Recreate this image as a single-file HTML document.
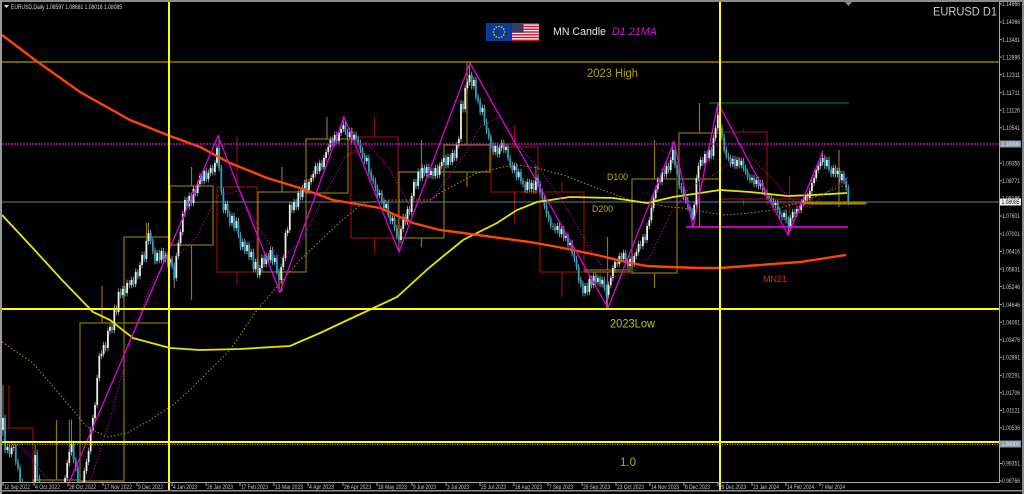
<!DOCTYPE html>
<html><head><meta charset="utf-8">
<style>
html,body{margin:0;padding:0;background:#000;width:1024px;height:494px;overflow:hidden;position:relative}
svg{display:block;position:absolute;left:0;top:0}
text{font-family:"Liberation Sans",sans-serif}
</style></head><body>
<svg width="1024" height="494" viewBox="0 0 1024 494" xmlns="http://www.w3.org/2000/svg" xmlns:xlink="http://www.w3.org/1999/xlink">
<defs>
<clipPath id="pc"><rect x="2" y="2" width="997" height="480"/></clipPath>
<path id="bw" d="M3 430V418M7.3 450V447M11.6 454V448M13.7 448V447M33 490V488M35.1 488V455M65.1 490V478M67.2 478V463M69.3 463V452M71.5 452V444M82.2 490V484M84.3 484V471M86.5 471V462M88.6 462V451M90.7 451V430M92.9 430V418M95 418V405M97.2 405V378M99.3 378V356M101.4 356V354M103.6 354V345M107.9 348V331M110 331V327M114.3 330V308M118.6 312V292M122.8 295V289M127.1 293V283M131.4 285V280M135.7 284V272M140 276V265M142.1 265V255M146.4 259V241M148.5 241V233M157.1 261V253M161.4 260V251M165.6 259V255M169.9 264V259M176.3 278V256M178.5 256V243M180.6 243V232M182.8 232V214M184.9 214V200M189.2 206V196M193.5 203V189M197.7 193V184M199.9 184V176M204.2 181V171M208.4 179V173M210.6 173V168M214.9 172V163M217 163V148M225.6 210V204M232 223V216M236.3 228V221M242.7 247V242M247 251V245M251.2 257V252M255.5 269V262M259.8 275V268M261.9 268V258M266.2 264V256M270.5 260V250M274.8 262V258M281.2 280V267M283.3 267V258M285.5 258V233M287.6 233V230M289.8 230V205M294 210V202M298.3 207V193M302.6 197V188M304.7 188V183M309 190V182M311.2 182V178M313.3 178V174M315.4 174V166M319.7 171V163M324 167V158M326.1 158V152M328.3 152V147M330.4 147V140M334.7 143V135M339 141V133M341.1 133V129M343.3 129V125M349.7 137V131M354 140V135M366.8 161V158M379.6 195V193M386.1 208V204M392.5 221V218M401 240V229M403.2 229V217M407.5 222V209M411.7 212V196M413.9 196V182M418.2 186V172M422.4 178V168M426.7 173V167M431 175V171M435.3 176V168M439.6 175V166M441.7 166V162M443.8 162V158M448.1 165V157M452.4 162V153M456.7 158V145M458.8 145V139M461 139V104M465.2 109V88M467.4 88V82M469.5 82V75M473.8 86V80M482.4 112V108M495.2 152V146M499.5 154V148M501.6 148V143M505.9 150V147M514.5 170V166M518.7 177V172M527.3 190V182M531.6 189V183M535.9 190V178M557.3 230V226M561.5 234V229M565.8 238V236M570.1 245V243M585.1 293V286M589.4 292V279M593.6 285V276M597.9 282V278M602.2 284V280M608.6 295V285M610.8 285V278M612.9 278V268M615 268V262M619.3 264V256M623.6 259V253M630 266V259M634.3 264V256M636.4 256V252M638.6 252V244M642.9 246V237M647.1 240V226M649.3 226V220M651.4 220V208M653.6 208V198M655.7 198V189M657.8 189V180M662.1 182V172M666.4 174V166M670.7 170V160M672.8 160V150M694.2 220V205M696.4 205V178M698.5 178V166M700.6 166V160M704.9 163V154M709.2 158V150M713.5 156V138M715.6 138V128M717.8 128V115M732.7 164V159M737 166V160M741.3 165V161M752 180V178M756.3 184V180M760.6 186V183M775.5 205V203M784.1 217V213M790.5 228V218M792.7 218V212M796.9 214V209M801.2 210V203M803.4 203V200M805.5 200V196M809.8 198V191M811.9 191V183M814.1 183V178M816.2 178V170M818.3 170V166M820.5 166V162M822.6 162V158M826.9 166V160M833.3 174V168M837.6 174V171M841.9 180V174"/>
<path id="bc" d="M5.1 418V450M9.4 447V454M15.8 447V462M18 462V468M20.1 468V482M22.3 482V485M24.4 485V490M37.2 455V478M39.4 478V489M41.5 489V490M73.6 444V460M75.8 460V468M77.9 468V490M105.7 345V348M112.1 327V330M116.4 308V312M120.7 292V295M125 289V293M129.3 283V285M133.5 280V284M137.8 272V276M144.2 255V259M150.7 233V241M152.8 241V251M155 251V261M159.3 253V260M163.5 251V259M167.8 255V264M172.1 259V266M174.2 266V278M187 200V206M191.3 196V203M195.6 189V193M202 176V181M206.3 171V179M212.7 168V172M219.1 148V168M221.3 168V191M223.4 191V210M227.7 204V214M229.8 214V223M234.1 216V228M238.4 221V235M240.5 235V247M244.8 242V251M249.1 245V257M253.4 252V269M257.7 262V275M264.1 258V264M268.4 256V260M272.6 250V262M276.9 258V272M279.1 272V280M291.9 205V210M296.2 202V207M300.5 193V197M306.9 183V190M317.6 166V171M321.9 163V167M332.6 140V143M336.8 135V141M345.4 125V132M347.5 132V137M351.8 131V140M356.1 135V139M358.2 139V143M360.4 143V150M362.5 150V156M364.7 156V161M368.9 158V172M371.1 172V178M373.2 178V181M375.4 181V188M377.5 188V195M381.8 193V201M383.9 201V208M388.2 204V215M390.3 215V221M394.6 218V228M396.8 228V236M398.9 236V240M405.3 217V222M409.6 209V212M416 182V186M420.3 172V178M424.6 168V173M428.9 167V175M433.1 171V176M437.4 168V175M446 158V165M450.3 157V162M454.5 153V158M463.1 104V109M471.7 75V86M475.9 80V97M478.1 97V101M480.2 101V112M484.5 108V122M486.6 122V131M488.8 131V137M490.9 137V145M493.1 145V152M497.3 146V154M503.8 143V150M508 147V158M510.2 158V165M512.3 165V170M516.6 166V177M520.9 172V181M523 181V184M525.2 184V190M529.4 182V189M533.7 183V190M538 178V184M540.1 184V192M542.3 192V198M544.4 198V206M546.6 206V214M548.7 214V219M550.8 219V226M553 226V227M555.1 227V230M559.4 226V234M563.7 229V238M568 236V245M572.2 243V253M574.4 253V259M576.5 259V267M578.7 267V280M580.8 280V284M582.9 284V293M587.2 286V292M591.5 279V285M595.8 276V282M600.1 278V284M604.3 280V288M606.5 288V295M617.2 262V264M621.5 256V259M625.7 253V262M627.9 262V266M632.2 259V264M640.7 244V246M645 237V240M660 180V182M664.3 172V174M668.5 166V170M675 150V165M677.1 165V174M679.2 174V186M681.4 186V190M683.5 190V197M685.7 197V200M687.8 200V207M689.9 207V211M692.1 211V220M702.8 160V163M707.1 154V158M711.3 150V156M719.9 115V128M722 128V137M724.2 137V150M726.3 150V156M728.5 156V158M730.6 158V164M734.9 159V166M739.2 160V165M743.4 161V168M745.6 168V172M747.7 172V177M749.9 177V180M754.1 178V184M758.4 180V186M762.7 183V190M764.8 190V193M767 193V196M769.1 196V198M771.3 198V201M773.4 201V205M777.7 203V210M779.8 210V215M782 215V217M786.2 213V220M788.4 220V228M794.8 212V214M799.1 209V210M807.6 196V198M824.8 158V166M829 160V169M831.2 169V174M835.5 168V174M839.7 171V180M844 174V181M846.1 181V188M848.3 188V202"/>
</defs>
<rect width="1024" height="494" fill="#000"/>

<g clip-path="url(#pc)">
  <!-- monthly boxes -->
  <g fill="none" stroke-width="1.2">
    <g stroke="#8e0a0a">
      <rect x="-15" y="428" width="48" height="60"/>
      <path d="M9 385V428"/>
      <rect x="217" y="187" width="40" height="85"/>
      <path d="M237 136V187M237 272V285"/>
      <rect x="351" y="137" width="47" height="101"/>
      <path d="M374.5 117V137M374.5 238V253"/>
      <rect x="491" y="147" width="47" height="45"/>
      <path d="M514.5 125V147M514.5 192V223"/>
      <rect x="540" y="192" width="44" height="80"/>
      <path d="M562 182V192M562 272V297"/>
      <rect x="720" y="132" width="47" height="67"/>
      <path d="M743.5 129V132M743.5 199V206"/>
      <rect x="767" y="199" width="45" height="5"/>
      <path d="M789.5 176V199M789.5 204V235"/>
    </g>
    <g stroke="#8a7800">
      <rect x="33" y="480" width="47" height="8"/>
      <path d="M56.5 420V480"/>
      <rect x="80" y="323" width="44" height="158"/>
      <path d="M102 286V323M102 481V490"/>
      <rect x="124" y="237" width="45" height="86"/>
      <path d="M146.5 223V237"/>
      <rect x="170" y="186" width="43" height="59"/>
      <path d="M191.5 167V186M191.5 245V300"/>
      <rect x="258" y="192" width="48" height="80"/>
      <path d="M282 167V192M282 272V292"/>
      <rect x="306" y="139" width="42" height="54"/>
      <path d="M327 117V139"/>
      <rect x="399" y="172" width="45" height="66"/>
      <path d="M421.5 140V172M421.5 238V247"/>
      <rect x="444" y="145" width="46" height="27"/>
      <path d="M467 62V145M467 172V187"/>
      <rect x="585" y="270" width="45" height="2"/>
      <path d="M607.5 237V270M607.5 272V308"/>
      <rect x="632" y="179" width="45" height="94"/>
      <path d="M654.5 140V179M654.5 273V288"/>
      <rect x="679" y="133" width="41" height="46"/>
      <path d="M699.5 103V133M699.5 179V227"/>
      <rect x="812" y="202" width="54" height="2"/>
      <path d="M839 150V202M839 204V207"/>
    </g>
  </g>
  <!-- current price line -->
  <line x1="2" y1="202" x2="999" y2="202" stroke="#6b7b8b" stroke-width="1"/>
  <!-- candle wicks -->
  <g stroke="#9a9a9a" stroke-width="0.8" fill="none" stroke-linecap="square">
    <use href="#bw" xlink:href="#bw" y="-3"/><use href="#bw" xlink:href="#bw" y="-1.5"/><use href="#bw" xlink:href="#bw" y="1.5"/><use href="#bw" xlink:href="#bw" y="3"/>
    <use href="#bc" xlink:href="#bc" y="-3"/><use href="#bc" xlink:href="#bc" y="-1.5"/><use href="#bc" xlink:href="#bc" y="1.5"/><use href="#bc" xlink:href="#bc" y="3"/>
    <path d="M3 385V436M35.1 445V488M37.2 450V481M69.3 420V466M71.5 420V455M148.5 223V244M174.2 263V288M219.1 136V171M279.1 269V292M343.3 117V132M398.9 233V252M461 100V142M469.5 63V85M535.9 166V193M606.5 285V308M672.8 142V163M692.1 208V227M717.8 103V131M788.4 217V235M822.6 151V165"/>
  </g>
  <!-- candle bodies -->
  <use href="#bw" xlink:href="#bw" fill="none" stroke="#ededed" stroke-width="1.8"/>
  <use href="#bc" xlink:href="#bc" fill="none" stroke="#1ba6c8" stroke-width="1.8"/>
  <!-- D100 dotted -->
  <polyline fill="none" stroke="#a89600" stroke-width="1" stroke-dasharray="1.5 2" points="2,342 33,363 67,403 87,427 107,437 127,433 150,420 173,405 193,387 230,350 257,310 300,260 340,222 363,203 390,200 430,200 440,193 477,173 503,167 517,165 537,168 563,175 597,188 630,200 670,207 683,208 723,215 750,213 773,210 807,200 840,187 847,186"/>
  <!-- D200 -->
  <polyline fill="none" stroke="#e6e600" stroke-width="1.8" points="2,215 30,245 62,280 93,312 110,320 133,338 170,348 200,350 240,349 290,346 320,333 352,318 397,297 430,267 463,240 497,223 517,210 537,202 570,197 613,198 647,203 673,197 700,193 720,190 750,192 787,196 813,195 847,193"/>
  <!-- MN21 -->
  <polyline fill="none" stroke="#ff4500" stroke-width="2.4" points="2,35 35,60 80,92 130,120 170,136 200,147 230,163 267,178 300,188 333,200 380,208 413,223 440,230 463,233 530,242 563,248 597,255 630,263 647,266 670,267 700,268 720,268 760,265 800,262 846,255"/>
  <!-- 21MA dotted -->
  <polyline fill="none" stroke="#c800c8" stroke-width="1" stroke-dasharray="1.2 1.8" points="3,439 24,449 45,476 67,490 89,485 110,420 131,339 153,280 174,260 196,238 217,196 238,191 260,230 281,259 303,239 324,196 345,157 367,142 388,167 410,206 431,201 452,172 465,154 480,127 500,117 520,147 545,176 570,213 590,250 610,277 630,274 650,257 670,215 690,187 710,177 730,162 750,156 770,177 790,199 810,207 830,189 848,177"/>
  <!-- zigzag -->
  <polyline fill="none" stroke="#e000e0" stroke-width="1.3" points="64.2,494 218,136 280,292 344,117 399,252 470,63 608,308 674,142 693,227 718,103 788,235 823,151"/>
  <!-- horizontal objects -->
  <line x1="2" y1="144" x2="999" y2="144" stroke="#d010d0" stroke-width="1.2" stroke-dasharray="2 1"/>
  <line x1="2" y1="62" x2="999" y2="62" stroke="#8a8200" stroke-width="1.5"/>
  <line x1="709" y1="103" x2="849" y2="103" stroke="#0a7010" stroke-width="1.2"/>
  <line x1="686" y1="227" x2="848" y2="227" stroke="#ff00ff" stroke-width="1.5"/>
  <line x1="803" y1="203" x2="865" y2="203" stroke="#9a8a00" stroke-width="2.2"/>
  <line x1="2" y1="309" x2="999" y2="309" stroke="#ffff00" stroke-width="2"/>
  <line x1="2" y1="442" x2="999" y2="442" stroke="#ffff00" stroke-width="2"/>
  <line x1="2" y1="444.5" x2="999" y2="444.5" stroke="#a0a000" stroke-width="1" stroke-dasharray="1 1.5"/>
</g>

<!-- vertical lines -->
<line x1="169" y1="2" x2="169" y2="490" stroke="#ffff00" stroke-width="2"/>
<line x1="720" y1="2" x2="720" y2="490" stroke="#ffff00" stroke-width="2"/>

<!-- frame -->
<rect x="0" y="0" width="1024" height="2" fill="#8a8a8a"/>
<rect x="0" y="0" width="2" height="494" fill="#9a9a9a"/>
<rect x="1022" y="0" width="2" height="494" fill="#8a8a8a"/>
<rect x="0" y="490" width="1024" height="1.5" fill="#909090"/>
<line x1="999.5" y1="2" x2="999.5" y2="483" stroke="#a8a8a8" stroke-width="1"/>
<line x1="2" y1="482.5" x2="999.5" y2="482.5" stroke="#a8a8a8" stroke-width="1"/>
<polygon points="845,2 852,2 848.5,6" fill="#7890a8"/>

<!-- header -->
<polygon points="4,5 9,5 6.5,8" fill="#e0e0e0"/>
<text x="11" y="9" font-size="6" fill="#d8d8d8" textLength="111" lengthAdjust="spacingAndGlyphs">EURUSD,Daily  1.08597 1.08681 1.08016 1.08085</text>
<text x="933" y="15.5" font-size="12" fill="#c8cdd3" textLength="64" lengthAdjust="spacingAndGlyphs">EURUSD D1</text>

<!-- flags -->
<rect x="486" y="23" width="26" height="18" fill="#0b3b9b"/>
<g fill="#f0d000">
<circle cx="499" cy="26.5" r="0.8"/><circle cx="501.7" cy="27.2" r="0.8"/><circle cx="503.7" cy="29.2" r="0.8"/><circle cx="504.5" cy="32" r="0.8"/><circle cx="503.7" cy="34.8" r="0.8"/><circle cx="501.7" cy="36.8" r="0.8"/><circle cx="499" cy="37.5" r="0.8"/><circle cx="496.3" cy="36.8" r="0.8"/><circle cx="494.3" cy="34.8" r="0.8"/><circle cx="493.5" cy="32" r="0.8"/><circle cx="494.3" cy="29.2" r="0.8"/><circle cx="496.3" cy="27.2" r="0.8"/>
</g>
<rect x="512" y="23" width="27" height="18" fill="#f4f4f4"/>
<g fill="#c8102e">
<rect x="512" y="23" width="27" height="1.4"/><rect x="512" y="25.8" width="27" height="1.4"/><rect x="512" y="28.5" width="27" height="1.4"/><rect x="512" y="31.3" width="27" height="1.4"/><rect x="512" y="34.1" width="27" height="1.4"/><rect x="512" y="36.8" width="27" height="1.4"/><rect x="512" y="39.6" width="27" height="1.4"/>
</g>
<rect x="512" y="23" width="11.5" height="9.7" fill="#3c3b6e"/>
<text x="553" y="35" font-size="11" fill="#e4e4e4" textLength="53" lengthAdjust="spacingAndGlyphs">MN Candle</text>
<text x="612" y="35" font-size="11" font-style="italic" fill="#d414d4" textLength="45" lengthAdjust="spacingAndGlyphs">D1 21MA</text>

<!-- chart labels -->
<text x="587" y="77" font-size="11.5" fill="#b0a600" textLength="51" lengthAdjust="spacingAndGlyphs">2023 High</text>
<text x="607" y="180" font-size="9" fill="#c0ae00" textLength="21" lengthAdjust="spacingAndGlyphs">D100</text>
<text x="592" y="212" font-size="9" fill="#c0ae00" textLength="21" lengthAdjust="spacingAndGlyphs">D200</text>
<text x="763" y="282" font-size="9" fill="#d2320a" textLength="24" lengthAdjust="spacingAndGlyphs">MN21</text>
<text x="610" y="327.5" font-size="11.5" fill="#c4bc10" textLength="45" lengthAdjust="spacingAndGlyphs">2023Low</text>
<text x="620" y="466" font-size="12" fill="#b0b000" textLength="16" lengthAdjust="spacingAndGlyphs">1.0</text>

<!-- price axis -->
<g stroke="#a8a8a8" stroke-width="1">
<line x1="999" y1="4" x2="1002" y2="4"/><line x1="999" y1="22" x2="1002" y2="22"/><line x1="999" y1="39.6" x2="1002" y2="39.6"/><line x1="999" y1="57.1" x2="1002" y2="57.1"/><line x1="999" y1="74.7" x2="1002" y2="74.7"/><line x1="999" y1="92.7" x2="1002" y2="92.7"/><line x1="999" y1="110.2" x2="1002" y2="110.2"/><line x1="999" y1="127.8" x2="1002" y2="127.8"/><line x1="999" y1="163.3" x2="1002" y2="163.3"/><line x1="999" y1="180.9" x2="1002" y2="180.9"/><line x1="999" y1="216" x2="1002" y2="216"/><line x1="999" y1="234" x2="1002" y2="234"/><line x1="999" y1="251.5" x2="1002" y2="251.5"/><line x1="999" y1="269.1" x2="1002" y2="269.1"/><line x1="999" y1="286.6" x2="1002" y2="286.6"/><line x1="999" y1="304.6" x2="1002" y2="304.6"/><line x1="999" y1="322.2" x2="1002" y2="322.2"/><line x1="999" y1="339.7" x2="1002" y2="339.7"/><line x1="999" y1="357.3" x2="1002" y2="357.3"/><line x1="999" y1="375.3" x2="1002" y2="375.3"/><line x1="999" y1="392.8" x2="1002" y2="392.8"/><line x1="999" y1="410.4" x2="1002" y2="410.4"/><line x1="999" y1="427.9" x2="1002" y2="427.9"/><line x1="999" y1="463.5" x2="1002" y2="463.5"/><line x1="999" y1="481" x2="1002" y2="481"/>
</g>
<g font-size="6" fill="#c8c8c8">
<text x="1002" y="6.2" textLength="18" lengthAdjust="spacingAndGlyphs">1.14666</text>
<text x="1002" y="24.2" textLength="18" lengthAdjust="spacingAndGlyphs">1.14066</text>
<text x="1002" y="41.8" textLength="18" lengthAdjust="spacingAndGlyphs">1.13481</text>
<text x="1002" y="59.3" textLength="18" lengthAdjust="spacingAndGlyphs">1.12896</text>
<text x="1002" y="76.9" textLength="18" lengthAdjust="spacingAndGlyphs">1.12311</text>
<text x="1002" y="94.9" textLength="18" lengthAdjust="spacingAndGlyphs">1.11711</text>
<text x="1002" y="112.4" textLength="18" lengthAdjust="spacingAndGlyphs">1.11126</text>
<text x="1002" y="130" textLength="18" lengthAdjust="spacingAndGlyphs">1.10541</text>
<text x="1002" y="165.5" textLength="18" lengthAdjust="spacingAndGlyphs">1.09356</text>
<text x="1002" y="183.1" textLength="18" lengthAdjust="spacingAndGlyphs">1.08771</text>
<text x="1002" y="200.6" textLength="18" lengthAdjust="spacingAndGlyphs">1.08186</text>
<text x="1002" y="218.2" textLength="18" lengthAdjust="spacingAndGlyphs">1.07601</text>
<text x="1002" y="236.2" textLength="18" lengthAdjust="spacingAndGlyphs">1.07001</text>
<text x="1002" y="253.7" textLength="18" lengthAdjust="spacingAndGlyphs">1.06416</text>
<text x="1002" y="271.3" textLength="18" lengthAdjust="spacingAndGlyphs">1.05831</text>
<text x="1002" y="288.8" textLength="18" lengthAdjust="spacingAndGlyphs">1.05246</text>
<text x="1002" y="306.8" textLength="18" lengthAdjust="spacingAndGlyphs">1.04646</text>
<text x="1002" y="324.4" textLength="18" lengthAdjust="spacingAndGlyphs">1.04061</text>
<text x="1002" y="341.9" textLength="18" lengthAdjust="spacingAndGlyphs">1.03476</text>
<text x="1002" y="359.5" textLength="18" lengthAdjust="spacingAndGlyphs">1.02891</text>
<text x="1002" y="377.5" textLength="18" lengthAdjust="spacingAndGlyphs">1.02291</text>
<text x="1002" y="395" textLength="18" lengthAdjust="spacingAndGlyphs">1.01706</text>
<text x="1002" y="412.6" textLength="18" lengthAdjust="spacingAndGlyphs">1.01121</text>
<text x="1002" y="430.1" textLength="18" lengthAdjust="spacingAndGlyphs">1.00536</text>
<text x="1002" y="465.7" textLength="18" lengthAdjust="spacingAndGlyphs">0.99351</text>
<text x="1002" y="483.2" textLength="18" lengthAdjust="spacingAndGlyphs">0.98766</text>
</g>
<!-- price boxes -->
<rect x="1000" y="140.5" width="21" height="7" fill="#8a98a8"/>
<text x="1001.5" y="146.2" font-size="6" fill="#f0f0f0" textLength="18" lengthAdjust="spacingAndGlyphs">1.10000</text>
<rect x="1000" y="198.5" width="21" height="7" fill="#f2f2f2"/>
<text x="1001.5" y="204.2" font-size="6" fill="#000" textLength="18" lengthAdjust="spacingAndGlyphs">1.08085</text>
<rect x="1000" y="440.5" width="21" height="7" fill="#8a98a8"/>
<text x="1001.5" y="446.2" font-size="6" fill="#f0f0f0" textLength="18" lengthAdjust="spacingAndGlyphs">1.00000</text>

<!-- time axis -->
<g stroke="#a8a8a8" stroke-width="1">
<line x1="3" y1="482" x2="3" y2="486"/><line x1="34" y1="482" x2="34" y2="486"/><line x1="68" y1="482" x2="68" y2="486"/><line x1="103" y1="482" x2="103" y2="486"/><line x1="137" y1="482" x2="137" y2="486"/><line x1="172" y1="482" x2="172" y2="486"/><line x1="206" y1="482" x2="206" y2="486"/><line x1="240" y1="482" x2="240" y2="486"/><line x1="274" y1="482" x2="274" y2="486"/><line x1="308" y1="482" x2="308" y2="486"/><line x1="343" y1="482" x2="343" y2="486"/><line x1="377" y1="482" x2="377" y2="486"/><line x1="412" y1="482" x2="412" y2="486"/><line x1="446" y1="482" x2="446" y2="486"/><line x1="480" y1="482" x2="480" y2="486"/><line x1="514" y1="482" x2="514" y2="486"/><line x1="548" y1="482" x2="548" y2="486"/><line x1="582" y1="482" x2="582" y2="486"/><line x1="616" y1="482" x2="616" y2="486"/><line x1="650" y1="482" x2="650" y2="486"/><line x1="684" y1="482" x2="684" y2="486"/><line x1="718" y1="482" x2="718" y2="486"/><line x1="752" y1="482" x2="752" y2="486"/><line x1="786" y1="482" x2="786" y2="486"/><line x1="820" y1="482" x2="820" y2="486"/>
</g>
<g font-size="6" fill="#c8c8c8">
<text x="4" y="489" textLength="26" lengthAdjust="spacingAndGlyphs">12 Sep 2022</text>
<text x="35" y="489" textLength="25" lengthAdjust="spacingAndGlyphs">4 Oct 2022</text>
<text x="69" y="489" textLength="27" lengthAdjust="spacingAndGlyphs">26 Oct 2022</text>
<text x="104" y="489" textLength="28" lengthAdjust="spacingAndGlyphs">17 Nov 2022</text>
<text x="138" y="489" textLength="25" lengthAdjust="spacingAndGlyphs">9 Dec 2022</text>
<text x="173" y="489" textLength="24" lengthAdjust="spacingAndGlyphs">4 Jan 2023</text>
<text x="207" y="489" textLength="26" lengthAdjust="spacingAndGlyphs">26 Jan 2023</text>
<text x="241" y="489" textLength="27" lengthAdjust="spacingAndGlyphs">17 Feb 2023</text>
<text x="275" y="489" textLength="28" lengthAdjust="spacingAndGlyphs">13 Mar 2023</text>
<text x="309" y="489" textLength="25" lengthAdjust="spacingAndGlyphs">4 Apr 2023</text>
<text x="344" y="489" textLength="27" lengthAdjust="spacingAndGlyphs">26 Apr 2023</text>
<text x="378" y="489" textLength="29" lengthAdjust="spacingAndGlyphs">18 May 2023</text>
<text x="413" y="489" textLength="23" lengthAdjust="spacingAndGlyphs">9 Jun 2023</text>
<text x="447" y="489" textLength="22" lengthAdjust="spacingAndGlyphs">3 Jul 2023</text>
<text x="481" y="489" textLength="25" lengthAdjust="spacingAndGlyphs">25 Jul 2023</text>
<text x="515" y="489" textLength="27" lengthAdjust="spacingAndGlyphs">16 Aug 2023</text>
<text x="549" y="489" textLength="24" lengthAdjust="spacingAndGlyphs">7 Sep 2023</text>
<text x="583" y="489" textLength="27" lengthAdjust="spacingAndGlyphs">29 Sep 2023</text>
<text x="617" y="489" textLength="27" lengthAdjust="spacingAndGlyphs">23 Oct 2023</text>
<text x="651" y="489" textLength="28" lengthAdjust="spacingAndGlyphs">14 Nov 2023</text>
<text x="685" y="489" textLength="25" lengthAdjust="spacingAndGlyphs">6 Dec 2023</text>
<text x="719" y="489" textLength="27" lengthAdjust="spacingAndGlyphs">29 Dec 2023</text>
<text x="753" y="489" textLength="26" lengthAdjust="spacingAndGlyphs">23 Jan 2024</text>
<text x="787" y="489" textLength="27" lengthAdjust="spacingAndGlyphs">14 Feb 2024</text>
<text x="821" y="489" textLength="24" lengthAdjust="spacingAndGlyphs">7 Mar 2024</text>
</g>
</svg>
</body></html>
